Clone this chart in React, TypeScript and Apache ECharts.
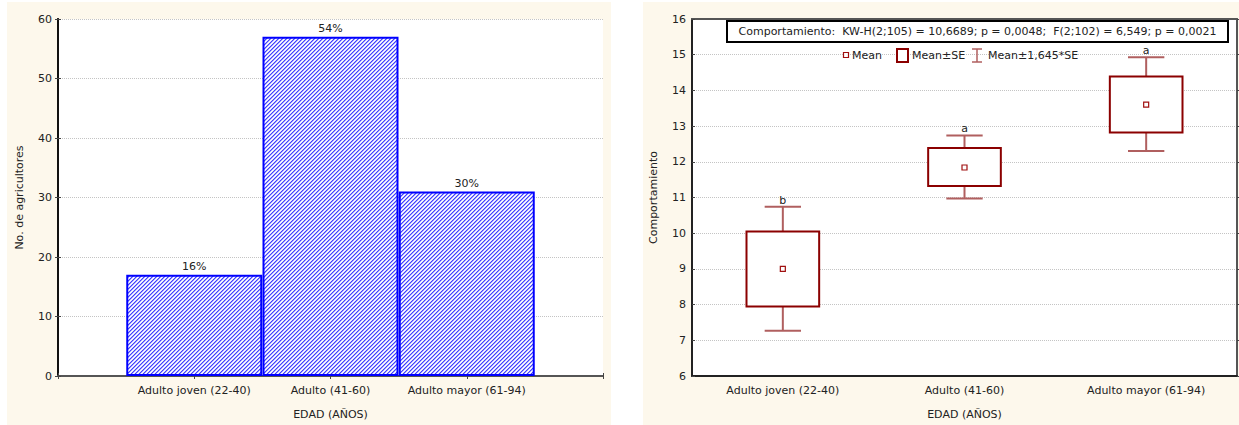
import React, { useEffect, useRef } from "react";
import * as echarts from "echarts";

const categories = ["Adulto joven (22-40)", "Adulto (41-60)", "Adulto mayor (61-94)"];
const counts = [17, 57, 31];
const percents = ["16%", "54%", "30%"];

const means = [9.0, 11.84, 13.6];
const seLow = [7.95, 11.32, 12.82];
const seHigh = [10.05, 12.39, 14.39];
const ciLow = [7.27, 10.97, 12.3];
const ciHigh = [10.74, 12.74, 14.93];
const letters = ["b", "a", "a"];

const statsText = "Comportamiento:  KW-H(2;105) = 10,6689; p = 0,0048;  F(2;102) = 6,549; p = 0,0021";
const legendLabels = ["Mean", "Mean±SE", "Mean±1,645*SE"];

const FONT = "DejaVu Sans, Verdana, sans-serif";
const TXT = "#222";
const BOX = "#8b0000";
const WHISK = "#b05f5f";
const CREAM = "#fdf8ec";

function makeHatch() {
  const c = document.createElement("canvas");
  c.width = 4;
  c.height = 4;
  const ctx = c.getContext("2d")!;
  ctx.fillStyle = "#ffffff";
  ctx.fillRect(0, 0, 4, 4);
  for (let x = 0; x < 4; x++) {
    for (let y = 0; y < 4; y++) {
      const k = (x + y) % 4;
      if (k === 0) ctx.fillStyle = "#4040ff";
      else if (k === 1) ctx.fillStyle = "#a0a0ff";
      else if (k === 3) ctx.fillStyle = "#dcdcff";
      else continue;
      ctx.fillRect(x, y, 1, 1);
    }
  }
  return c;
}

export default function App() {
  const ref = useRef<HTMLDivElement>(null);
  useEffect(() => {
    if (!ref.current) return;
    const chart = echarts.init(ref.current, null, { renderer: "svg" });
    const hatch = makeHatch();

    const axisLabelStyle = { color: TXT, fontSize: 11, fontFamily: FONT };
    const nameStyle = { color: TXT, fontSize: 11, fontFamily: FONT };
    const grid0 = { left: 58, top: 19, width: 545, height: 359 };
    const grid1 = { left: 692, top: 19, width: 545, height: 359 };

    const option: any = {
      animation: false,
      textStyle: { fontFamily: FONT },
      grid: [
        { ...grid0, show: true, backgroundColor: "#ffffff", borderWidth: 0 },
        { ...grid1, show: true, backgroundColor: "#ffffff", borderWidth: 0 },
      ],
      xAxis: [
        {
          gridIndex: 0,
          type: "value",
          min: 0,
          max: 4,
          interval: 1,
          position: "bottom",
          name: "EDAD (AÑOS)",
          nameLocation: "middle",
          nameGap: 33,
          nameTextStyle: nameStyle,
          axisLine: { lineStyle: { color: "#444", width: 2 } },
          axisTick: { inside: true, length: 3, lineStyle: { color: "#444" } },
          axisLabel: { ...axisLabelStyle, margin: 9, formatter: (v: number) => categories[v - 1] ?? "" },
          splitLine: { show: false },
        },
        {
          gridIndex: 0,
          type: "value",
          min: 0,
          max: 4,
          interval: 1,
          position: "top",
          axisLine: { lineStyle: { color: "#555", width: 2 } },
          axisTick: { inside: true, length: 3, lineStyle: { color: "#444" } },
          axisLabel: { show: false },
          splitLine: { show: false },
        },
        {
          gridIndex: 1,
          type: "category",
          data: categories,
          position: "bottom",
          name: "EDAD (AÑOS)",
          nameLocation: "middle",
          nameGap: 33,
          nameTextStyle: nameStyle,
          axisLine: { lineStyle: { color: "#222", width: 2 } },
          axisTick: { alignWithLabel: true, inside: true, length: 3, lineStyle: { color: "#444" } },
          axisLabel: { ...axisLabelStyle, margin: 9 },
          splitLine: { show: false },
        },
        {
          gridIndex: 1,
          type: "category",
          data: categories,
          position: "top",
          axisLine: { lineStyle: { color: "#555", width: 2 } },
          axisTick: { alignWithLabel: true, inside: true, length: 3, lineStyle: { color: "#444" } },
          axisLabel: { show: false },
          splitLine: { show: false },
        },
      ],
      yAxis: [
        {
          gridIndex: 0,
          type: "value",
          min: 0,
          max: 60,
          interval: 10,
          position: "left",
          name: "No. de agricultores",
          nameLocation: "middle",
          nameGap: 33,
          nameTextStyle: nameStyle,
          axisLine: { show: true, lineStyle: { color: "#444", width: 2 } },
          axisTick: { show: true, inside: true, length: 3, lineStyle: { color: "#444" } },
          axisLabel: { ...axisLabelStyle, margin: 6 },
          splitLine: { show: true, lineStyle: { color: "#c4c4c4", type: "dotted", width: 1 } },
        },
        {
          gridIndex: 0,
          type: "value",
          min: 0,
          max: 60,
          interval: 10,
          position: "right",
          axisLine: { show: true, lineStyle: { color: "#111", width: 2 } },
          axisTick: { show: true, inside: true, length: 3, lineStyle: { color: "#444" } },
          axisLabel: { show: false },
          splitLine: { show: false },
        },
        {
          gridIndex: 1,
          type: "value",
          min: 6,
          max: 16,
          interval: 1,
          position: "left",
          name: "Comportamiento",
          nameLocation: "middle",
          nameGap: 33,
          nameTextStyle: nameStyle,
          axisLine: { show: true, lineStyle: { color: "#222", width: 2 } },
          axisTick: { show: true, inside: true, length: 3, lineStyle: { color: "#444" } },
          axisLabel: { ...axisLabelStyle, margin: 6 },
          splitLine: { show: true, lineStyle: { color: "#c4c4c4", type: "dotted", width: 1 } },
        },
        {
          gridIndex: 1,
          type: "value",
          min: 6,
          max: 16,
          interval: 1,
          position: "right",
          axisLine: { show: true, lineStyle: { color: "#555", width: 2 } },
          axisTick: { show: true, inside: false, length: 3, lineStyle: { color: "#444" } },
          axisLabel: { show: false },
          splitLine: { show: false },
        },
      ],
      series: [
        {
          type: "bar",
          xAxisIndex: 0,
          yAxisIndex: 0,
          barWidth: 136,
          data: counts.map((c, i) => [i + 1, c]),
          itemStyle: {
            color: { image: hatch, repeat: "repeat" },
            borderColor: "#0000ff",
            borderWidth: 2,
          },
          label: {
            show: true,
            position: "top",
            distance: 3,
            color: TXT,
            fontSize: 11,
            fontFamily: FONT,
            formatter: (p: any) => percents[p.dataIndex],
          },
        },
        {
          type: "custom",
          xAxisIndex: 2,
          yAxisIndex: 2,
          clip: false,
          encode: { x: 0, y: [1, 2, 3, 4, 5] },
          data: means.map((m, i) => [i, seLow[i], seHigh[i], ciLow[i], ciHigh[i], m]),
          renderItem: (params: any, api: any) => {
            const idx = api.value(0);
            const bw = api.size([1, 0])[0];
            const boxW = bw * 0.4;
            const capW = bw * 0.2;
            const p = (v: number) => api.coord([idx, v]);
            const cx = p(api.value(5))[0];
            const yLo = p(api.value(1))[1];
            const yHi = p(api.value(2))[1];
            const yWlo = p(api.value(3))[1];
            const yWhi = p(api.value(4))[1];
            const yM = p(api.value(5))[1];
            const ws = { stroke: WHISK, lineWidth: 2 };
            return {
              type: "group",
              children: [
                { type: "line", shape: { x1: cx, y1: yWhi, x2: cx, y2: yHi }, style: ws },
                { type: "line", shape: { x1: cx, y1: yLo, x2: cx, y2: yWlo }, style: ws },
                { type: "line", shape: { x1: cx - capW / 2, y1: yWhi, x2: cx + capW / 2, y2: yWhi }, style: ws },
                { type: "line", shape: { x1: cx - capW / 2, y1: yWlo, x2: cx + capW / 2, y2: yWlo }, style: ws },
                {
                  type: "rect",
                  shape: { x: cx - boxW / 2, y: yHi, width: boxW, height: yLo - yHi },
                  style: { fill: "#ffffff", stroke: BOX, lineWidth: 2 },
                },
                {
                  type: "rect",
                  shape: { x: cx - 2.5, y: yM - 2.5, width: 5, height: 5 },
                  style: { fill: "#ffffff", stroke: "#a01010", lineWidth: 1.2 },
                },
                {
                  type: "text",
                  style: {
                    text: letters[params.dataIndex],
                    x: cx,
                    y: yWhi - 1,
                    align: "center",
                    verticalAlign: "bottom",
                    fill: TXT,
                    font: `11px ${FONT}`,
                  },
                },
              ],
            };
          },
        },
      ],
      graphic: {
        elements: [
          { type: "rect", z: -100, shape: { x: 7, y: 2, width: 604, height: 423 }, style: { fill: CREAM } },
          { type: "rect", z: -100, shape: { x: 643, y: 2, width: 596, height: 423 }, style: { fill: CREAM } },
          {
            type: "rect",
            z: 50,
            shape: { x: 727, y: 21, width: 501, height: 21 },
            style: { fill: "#ffffff", stroke: "#000", lineWidth: 2 },
          },
          {
            type: "text",
            z: 51,
            style: { text: statsText, x: 977.5, y: 31.5, align: "center", verticalAlign: "middle", fill: TXT, font: `11px ${FONT}` },
          },
          {
            type: "rect",
            z: 50,
            shape: { x: 843.5, y: 52.5, width: 5, height: 5 },
            style: { fill: "#ffffff", stroke: "#a01010", lineWidth: 1.2 },
          },
          {
            type: "text",
            z: 51,
            style: { text: legendLabels[0], x: 852, y: 55.5, align: "left", verticalAlign: "middle", fill: TXT, font: `11px ${FONT}` },
          },
          {
            type: "rect",
            z: 50,
            shape: { x: 897, y: 49, width: 11, height: 13 },
            style: { fill: "#ffffff", stroke: BOX, lineWidth: 2 },
          },
          {
            type: "text",
            z: 51,
            style: { text: legendLabels[1], x: 912, y: 55.5, align: "left", verticalAlign: "middle", fill: TXT, font: `11px ${FONT}` },
          },
          { type: "line", z: 50, shape: { x1: 977, y1: 49, x2: 977, y2: 62 }, style: { stroke: WHISK, lineWidth: 1.5 } },
          { type: "line", z: 50, shape: { x1: 972, y1: 49, x2: 982, y2: 49 }, style: { stroke: WHISK, lineWidth: 1.5 } },
          { type: "line", z: 50, shape: { x1: 972, y1: 62, x2: 982, y2: 62 }, style: { stroke: WHISK, lineWidth: 1.5 } },
          {
            type: "text",
            z: 51,
            style: { text: legendLabels[2], x: 988, y: 55.5, align: "left", verticalAlign: "middle", fill: TXT, font: `11px ${FONT}` },
          },
        ],
      },
    };
    chart.setOption(option);
    return () => chart.dispose();
  }, []);
  return <div ref={ref} style={{ position: "absolute", left: 0, top: 0, width: 1239, height: 425 }} />;
}
